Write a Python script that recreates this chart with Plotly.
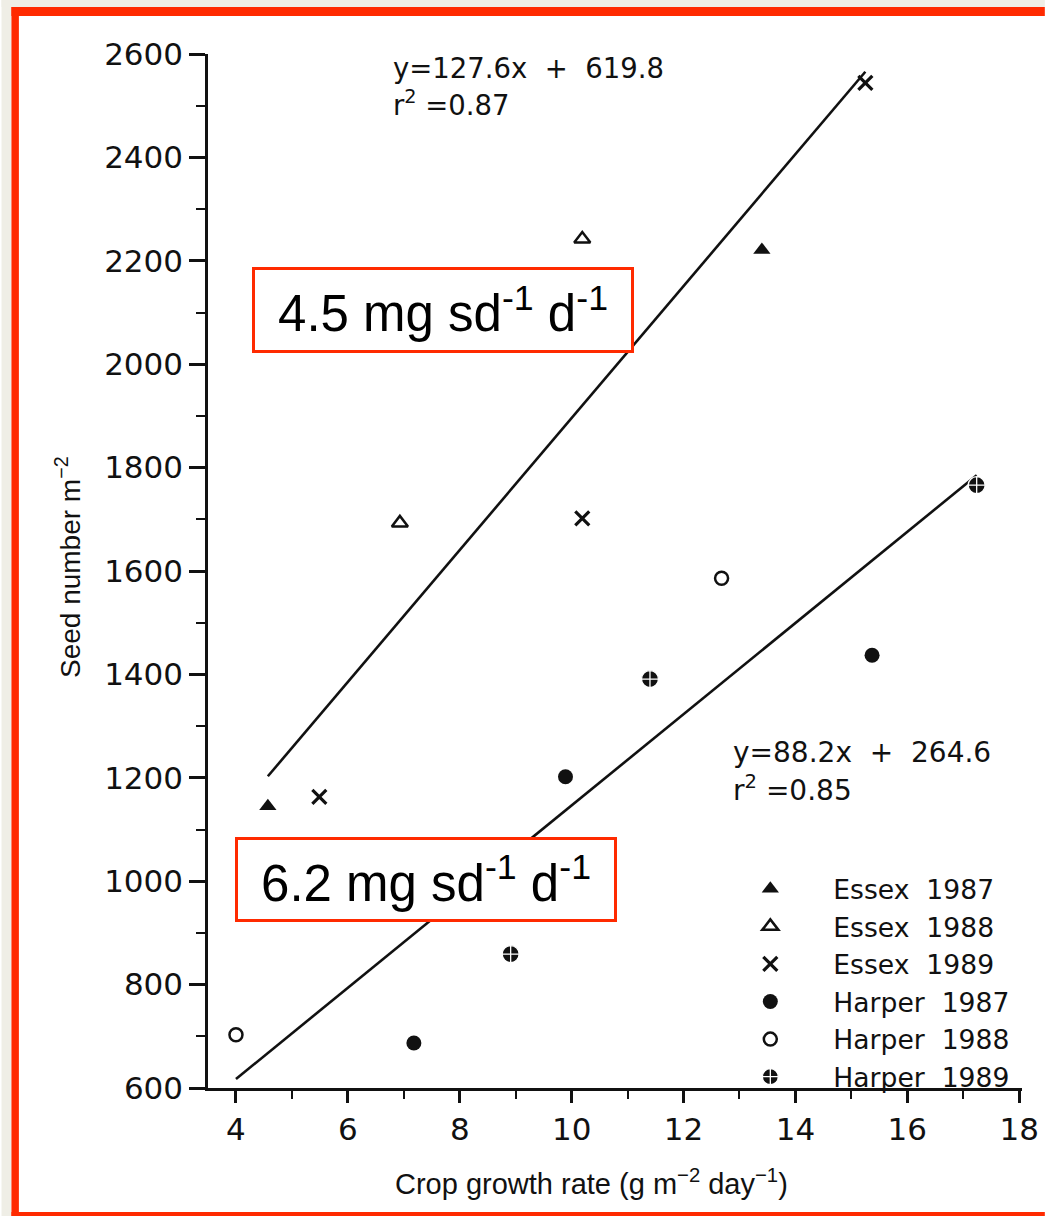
import plotly.graph_objects as go

# ---- data ----
essex87_x = [4.57, 13.40]
essex87_y = [1145, 2221]
essex88_x = [6.93, 10.19]
essex88_y = [1693, 2242]
essex89_x = [5.49, 10.19, 15.25]
essex89_y = [1163, 1702, 2544]
harper87_x = [7.18, 9.89, 15.37]
harper87_y = [687, 1202, 1437]
harper88_x = [4.00, 12.68]
harper88_y = [703, 1586]
harper89_x = [8.91, 11.40, 17.24]
harper89_y = [859, 1391, 1766]

# regression lines (printed equations) and x extent
essex_fit = (127.6, 619.8)
essex_fit_x = [4.57, 15.25]
harper_fit = (88.2, 264.6)
harper_fit_x = [4.00, 17.24]

x_ticks = [4, 6, 8, 10, 12, 14, 16, 18]
y_ticks = [600, 800, 1000, 1200, 1400, 1600, 1800, 2000, 2200, 2400, 2600]

# ---- layout constants (pixels) ----
W, H = 1051, 1216
L, R, T, B = 208, 1028, 54, 1088
PW, PH = R - L, B - T


def px(xp):
    return (xp - L) / PW


def py(yp):
    return (B - yp) / PH


BLACK = "#111111"
RED = "#ff2a00"
BEIGE = "#efeee6"
TICKFONT = dict(family="DejaVu Sans", size=31, color=BLACK)

fig = go.Figure()

for (m, b), xs in [(essex_fit, essex_fit_x), (harper_fit, harper_fit_x)]:
    fig.add_trace(go.Scatter(x=xs, y=[m * v + b for v in xs], mode="lines",
                             line=dict(color=BLACK, width=2.6), showlegend=False,
                             hoverinfo="skip"))

series = [
    ("Essex\u00a0\u00a01987", essex87_x, essex87_y, "triangle-up", 15, dict(color=BLACK, width=0)),
    ("Essex\u00a0\u00a01988", essex88_x, essex88_y, "triangle-up-open", 14, dict(color=BLACK, width=2.5)),
    ("Essex\u00a0\u00a01989", essex89_x, essex89_y, "x-thin-open", 14, dict(color=BLACK, width=3.2)),
    ("Harper\u00a0\u00a01987", harper87_x, harper87_y, "circle", 15, dict(color=BLACK, width=0)),
    ("Harper\u00a0\u00a01988", harper88_x, harper88_y, "circle-open", 13, dict(color=BLACK, width=2.5)),
    ("Harper\u00a0\u00a01989", harper89_x, harper89_y, "circle-cross", 17, dict(color="white", width=1.3)),
]
for name, xs, ys, sym, size, line in series:
    fig.add_trace(go.Scatter(x=xs, y=ys, mode="markers", name=name,
                             marker=dict(symbol=sym, size=size, color=BLACK, line=line)))


# ---- frame: beige page edge, red border strips (left, top, bottom) ----
def rect(x0, y0, x1, y1, color):
    return dict(type="rect", xref="paper", yref="paper", layer="below",
                x0=px(x0), x1=px(x1), y0=py(y0), y1=py(y1),
                fillcolor=color, line=dict(width=0))


shapes = [
    rect(0, 0, 10, H, BEIGE),
    rect(0, 0, W, 7, BEIGE),
    rect(10, 7, W, 16, RED),
    rect(10, 7, 17.5, H, RED),
    rect(10, 1212, W, H, RED),
]

annotations = [
    dict(text="y=127.6x\u00a0\u00a0+\u00a0\u00a0619.8", x=px(392), y=py(68), xanchor="left",
         yanchor="middle", font=dict(family="DejaVu Sans", size=27.5, color=BLACK)),
    dict(text="r<sup>2</sup>\u00a0=0.87", x=px(392), y=py(103), xanchor="left",
         yanchor="middle", font=dict(family="DejaVu Sans", size=27.5, color=BLACK)),
    dict(text="y=88.2x\u00a0\u00a0+\u00a0\u00a0264.6", x=px(735), y=py(752), xanchor="left",
         yanchor="middle", font=dict(family="DejaVu Sans", size=28, color=BLACK)),
    dict(text="r<sup>2</sup>\u00a0=0.85", x=px(735), y=py(789), xanchor="left",
         yanchor="middle", font=dict(family="DejaVu Sans", size=28, color=BLACK)),
    dict(text="4.5 mg sd<sup>-1</sup> d<sup>-1</sup>", x=px(444.5), y=py(309.5),
         xanchor="center", yanchor="middle", width=372, height=76, borderpad=2,
         bordercolor=RED, borderwidth=3, bgcolor="white",
         font=dict(family="Liberation Sans", size=51, color="black")),
    dict(text="6.2 mg sd<sup>-1</sup> d<sup>-1</sup>", x=px(428), y=py(879.5),
         xanchor="center", yanchor="middle", width=372, height=75, borderpad=2,
         bordercolor=RED, borderwidth=3, bgcolor="white",
         font=dict(family="Liberation Sans", size=51, color="black")),
    dict(text="Seed number m<sup>\u22122</sup>", x=px(67), y=py(567), textangle=-90,
         xanchor="center", yanchor="middle",
         font=dict(family="Liberation Sans", size=28, color=BLACK)),
    dict(text="Crop growth rate (g m<sup>\u22122</sup> day<sup>\u22121</sup>)", x=px(594), y=py(1182),
         xanchor="center", yanchor="middle",
         font=dict(family="Liberation Sans", size=29, color=BLACK)),
]
for a in annotations:
    a.setdefault("xref", "paper")
    a.setdefault("yref", "paper")
    a.setdefault("showarrow", False)

fig.update_layout(
    width=W, height=H,
    margin=dict(l=L, r=W - R, t=T, b=H - B, pad=0),
    paper_bgcolor="white", plot_bgcolor="rgba(0,0,0,0)",
    shapes=shapes, annotations=annotations,
    legend=dict(x=px(711), y=py(865), xanchor="left", yanchor="top",
                bgcolor="rgba(0,0,0,0)", itemwidth=116, tracegroupgap=0,
                font=dict(family="DejaVu Sans", size=26.6, color=BLACK)),
    xaxis=dict(range=[3.5, 18.05], tickvals=x_ticks, ticktext=[str(v) for v in x_ticks],
               showgrid=False, zeroline=False, showline=True, linecolor=BLACK, linewidth=2.5,
               ticks="outside", ticklen=12, tickwidth=2.5, tickcolor=BLACK, tickfont=TICKFONT,
               minor=dict(dtick=1, tick0=3, ticks="outside", ticklen=8, tickwidth=2.2,
                          tickcolor=BLACK, showgrid=False)),
    yaxis=dict(range=[600, 2600], tickvals=y_ticks, ticktext=[str(v) for v in y_ticks],
               showgrid=False, zeroline=False, showline=True, linecolor=BLACK, linewidth=2.5,
               ticks="outside", ticklen=16, tickwidth=2.5, tickcolor=BLACK, tickfont=TICKFONT,
               minor=dict(dtick=100, tick0=0, ticks="outside", ticklen=9, tickwidth=2.2,
                          tickcolor=BLACK, showgrid=False)),
)

fig.write_html("out.html")
